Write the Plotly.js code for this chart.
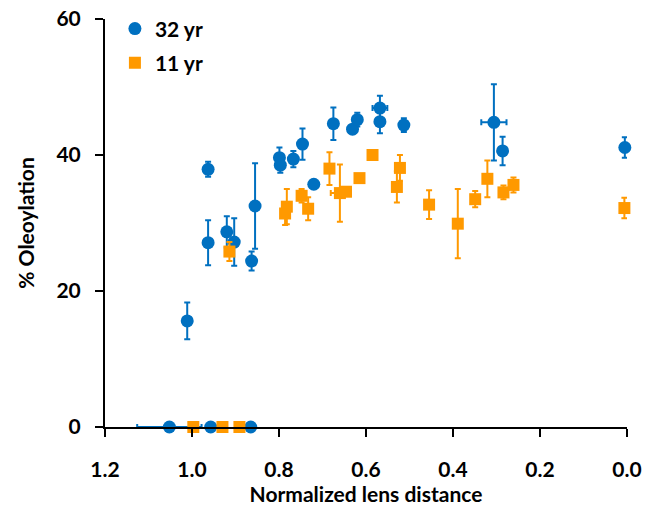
<!DOCTYPE html>
<html>
<head>
<meta charset="utf-8">
<script src="https://cdn.plot.ly/plotly-3.0.1.min.js"></script>
<style>html,body{margin:0;padding:0;background:#fff;}#chart{width:645px;height:517px;}</style>
</head>
<body>
<div id="chart"></div>
<script>
// 32 yr series
var x32 = [1.052, 0.957, 0.865, 1.011, 0.963, 0.963, 0.920, 0.903, 0.863, 0.855, 0.799, 0.797, 0.767, 0.746, 0.720, 0.675, 0.631, 0.620, 0.568, 0.568, 0.513, 0.306, 0.286, 0.005];
var y32 = [0, 0, 0, 15.6, 37.9, 27.1, 28.7, 27.2, 24.4, 32.5, 39.6, 38.5, 39.4, 41.6, 35.7, 44.6, 43.8, 45.2, 46.9, 44.9, 44.4, 44.8, 40.6, 41.1];
var yErr32 = [0, 0, 0, 2.7, 1.1, 3.3, 2.3, 3.5, 1.4, 6.3, 1.5, 1.1, 1.2, 2.3, 0.6, 2.4, 0.6, 1.0, 1.8, 1.7, 1.0, 5.6, 2.1, 1.5];
var xErr32 = [0.074, 0, 0, 0, 0, 0, 0, 0, 0, 0, 0, 0, 0, 0, 0, 0, 0, 0, 0.017, 0, 0, 0.029, 0, 0];

// 11 yr series
var x11 = [0.997, 0.930, 0.891, 0.914, 0.782, 0.786, 0.748, 0.733, 0.684, 0.660, 0.646, 0.615, 0.585, 0.522, 0.529, 0.455, 0.389, 0.349, 0.321, 0.284, 0.261, 0.006];
var y11 = [0, 0, 0, 25.8, 32.4, 31.4, 34.0, 32.1, 38.0, 34.4, 34.6, 36.6, 40.0, 38.1, 35.3, 32.7, 29.9, 33.5, 36.5, 34.5, 35.6, 32.2];
var yErr11 = [0, 0, 0, 1.4, 2.6, 1.7, 1.0, 1.7, 2.4, 4.2, 0.6, 0.5, 0.5, 1.9, 2.3, 2.1, 5.1, 1.2, 2.7, 1.0, 1.1, 1.5];
var xErr11 = [0, 0, 0, 0, 0, 0, 0, 0, 0, 0.021, 0, 0, 0, 0, 0, 0, 0, 0, 0.008, 0, 0, 0];

var xTicks = [1.2, 1.0, 0.8, 0.6, 0.4, 0.2, 0.0];
var xTickText = ['1.2', '1.0', '0.8', '0.6', '0.4', '0.2', '0.0'];
var yTicks = [0, 20, 40, 60];

var blue = '#0070C0', orange = '#FF9900';
var fontFam = 'Lato, "Open Sans", sans-serif';

var traces = [
  {
    name: '32 yr', legendgroup: 'a', x: x32, y: y32, type: 'scatter', mode: 'markers', cliponaxis: false,
    marker: {symbol: 'circle', size: 13, color: blue},
    error_y: {type: 'data', array: yErr32, visible: true, color: blue, thickness: 2, width: 3},
    error_x: {type: 'data', array: xErr32, visible: true, color: blue, thickness: 2, width: 3}
  },
  {
    name: '11 yr', legendgroup: 'b', x: x11, y: y11, type: 'scatter', mode: 'markers', cliponaxis: false,
    marker: {symbol: 'square', size: 12, color: orange},
    error_y: {type: 'data', array: yErr11, visible: true, color: orange, thickness: 2, width: 3},
    error_x: {type: 'data', array: xErr11, visible: true, color: orange, thickness: 2, width: 3}
  }
];

var layout = {
  width: 645, height: 517,
  margin: {l: 105, r: 18, t: 19, b: 90, autoexpand: false},
  paper_bgcolor: '#fff', plot_bgcolor: '#fff',
  font: {family: fontFam, color: '#000', size: 21},
  showlegend: true,
  legend: {x: 0.019, y: 1.026, xanchor: 'left', yanchor: 'top', bgcolor: 'rgba(0,0,0,0)',
           traceorder: 'grouped', tracegroupgap: 4,
           font: {family: fontFam, size: 21, color: '#000', weight: 'bold'}},
  xaxis: {
    range: [1.2, 0], tickvals: xTicks, ticktext: xTickText,
    showgrid: false, zeroline: false, showline: true, linecolor: '#000', linewidth: 2,
    ticks: 'outside', ticklen: 8, tickwidth: 2, tickcolor: '#000', ticklabelstandoff: 15,
    tickfont: {family: fontFam, size: 21, weight: 'bold'},
    title: {text: 'Normalized lens distance', font: {family: fontFam, size: 21, weight: 'bold'}, standoff: 6},
    anchor: 'y', automargin: false
  },
  yaxis: {
    range: [0, 60], tickvals: yTicks,
    showgrid: false, zeroline: false, showline: true, linecolor: '#000', linewidth: 2,
    ticks: 'outside', ticklen: 8, tickwidth: 2, tickcolor: '#000', ticklabelstandoff: 10,
    tickfont: {family: fontFam, size: 21, weight: 'bold'},
    title: {text: '% Oleoylation', font: {family: fontFam, size: 21, weight: 'bold'}, standoff: 16},
    automargin: false
  }
};

Plotly.newPlot('chart', traces, layout, {displayModeBar: false, staticPlot: true});
</script>
</body>
</html>
